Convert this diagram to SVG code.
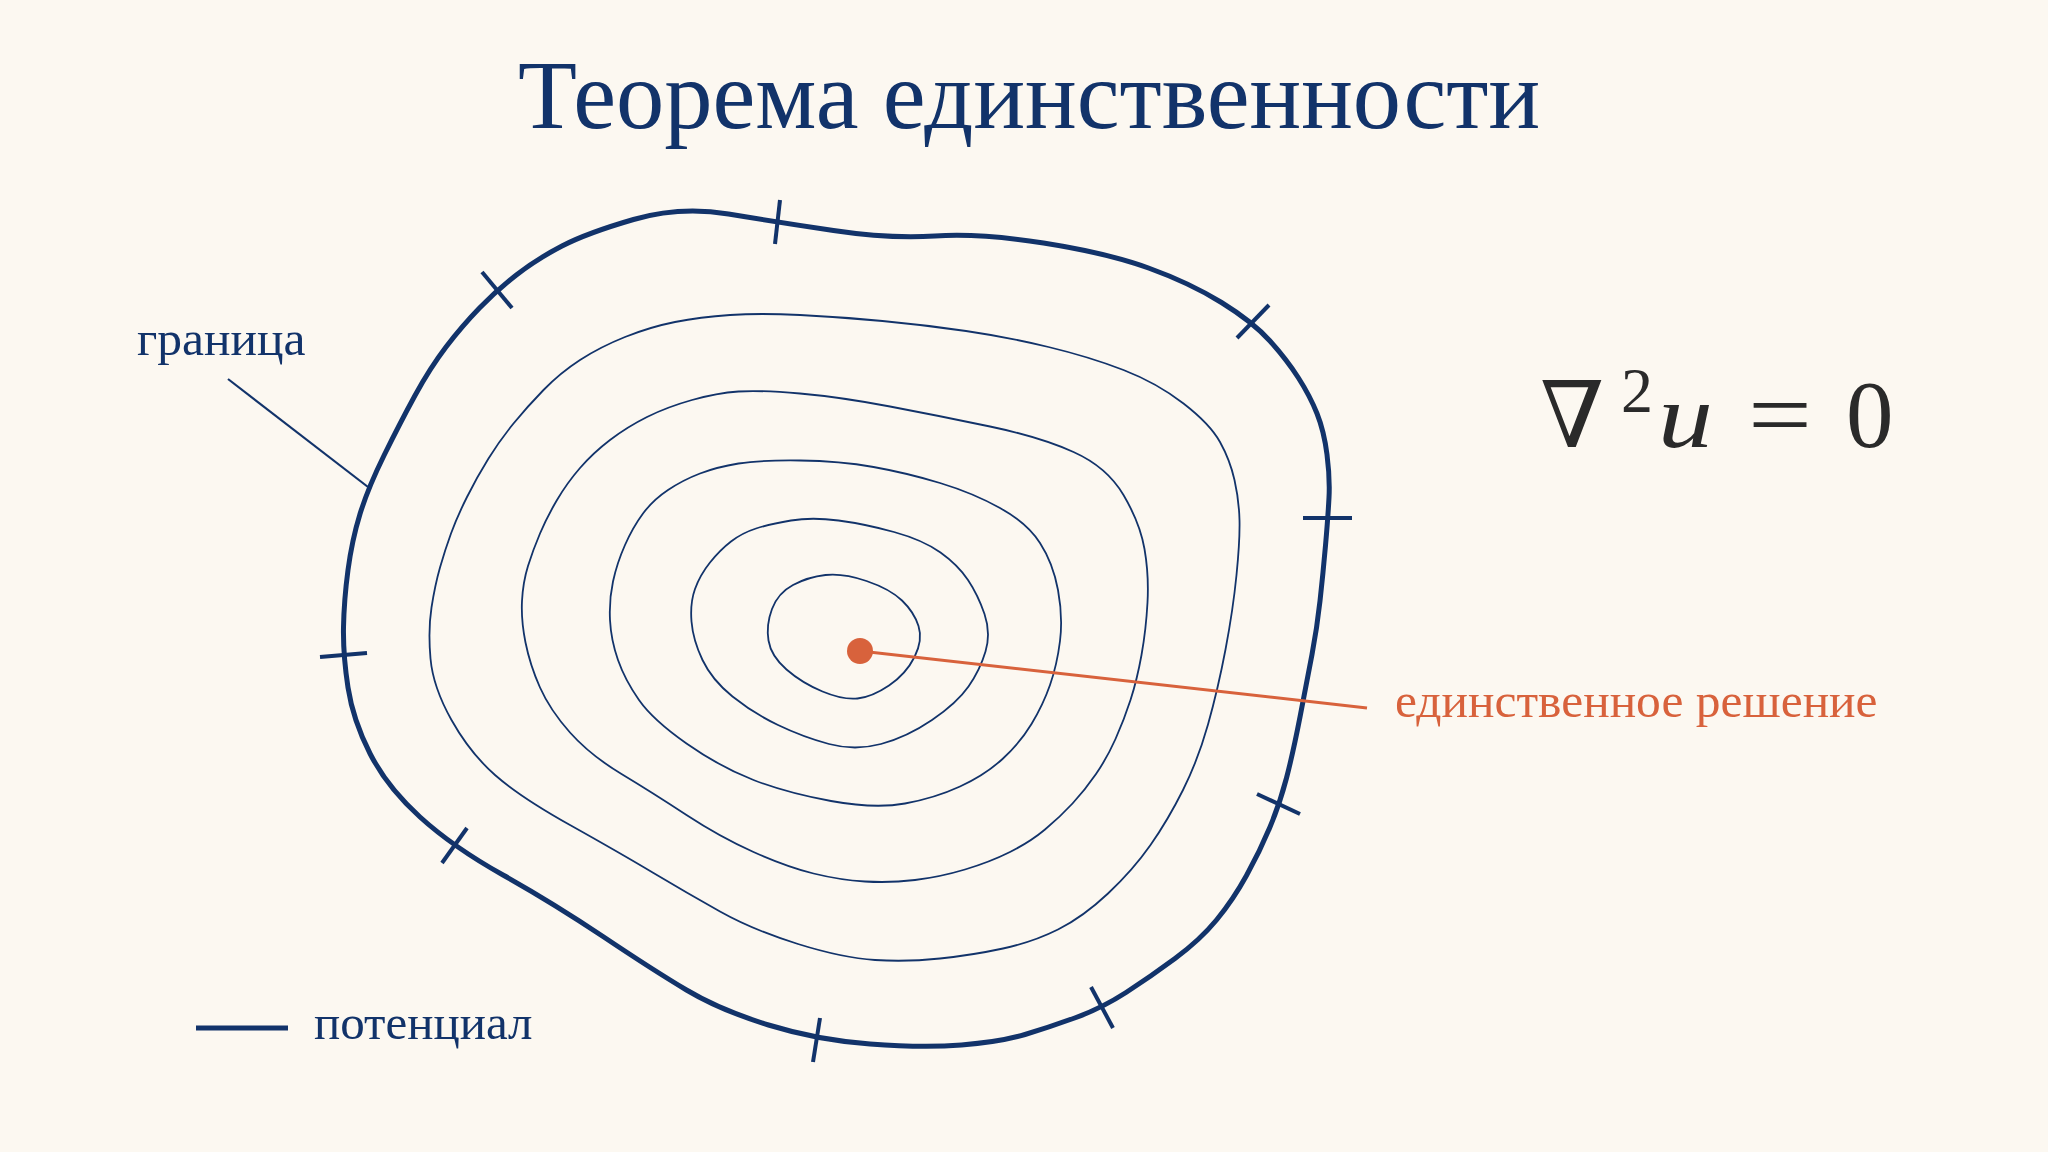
<svg xmlns="http://www.w3.org/2000/svg" width="2048" height="1152" viewBox="0 0 2048 1152">
<style>
.bg{fill:#fcf8f1}
.txt{font-family:"Liberation Serif","Times New Roman",serif;fill:#12336a}
.orange{fill:#d8623c}
.boundary{fill:none;stroke:#12336a;stroke-width:5;stroke-linejoin:round}
.contour{fill:none;stroke:#12336a;stroke-width:1.8}
.tick{stroke:#12336a;stroke-width:4;stroke-linecap:butt}
.leader{stroke:#12336a;stroke-width:2.2}
.math{font-family:"Liberation Serif","DejaVu Serif",serif;fill:#2a2a2a}
</style>
<rect class="bg" x="0" y="0" width="2048" height="1152"/>
<g id="title"><text class="txt" x="1029" y="128" font-size="96.5" text-anchor="middle">Теорема единственности</text></g>
<g id="region">
<path id="contour1" class="contour" d="M 730,315 Q 760,313 800,315 Q 840,317 882.5,321 Q 925,325 966,331 Q 1007,337 1048.5,347 Q 1090,357 1123.5,370 Q 1157,383 1183.5,403.5 Q 1210,424 1220,442 Q 1230,460 1234.5,480 Q 1239,500 1239.5,520 Q 1240,540 1236.5,575 Q 1233,610 1225.5,649.5 Q 1218,689 1208,724.5 Q 1198,760 1183,790 Q 1168,820 1150.5,845 Q 1133,870 1108,893.5 Q 1083,917 1058,929.5 Q 1033,942 1003,948.5 Q 973,955 940,958.5 Q 907,962 875,960 Q 843,958 798,944 Q 753,930 720,911.5 Q 687,893 653.5,873 Q 620,853 570,825 Q 520,797 495,775 Q 470,753 451.5,720 Q 433,687 430.5,658.5 Q 428,630 431.5,607.5 Q 435,585 440,567.5 Q 445,550 451,533.5 Q 457,517 467,497 Q 477,477 488.5,458.5 Q 500,440 513.5,423.5 Q 527,407 543.5,390 Q 560,373 580,360 Q 600,347 625,337 Q 650,327 675,322 Q 700,317 730,315 Z"/>
<path id="contour2" class="contour" d="M 738.5,391.5 Q 760,390 800,393.5 Q 840,397 890,406.5 Q 940,416 990,426.5 Q 1040,437 1073.5,452 Q 1107,467 1123.5,495 Q 1140,523 1144.5,549 Q 1149,575 1147.5,602.5 Q 1146,630 1141.5,655 Q 1137,680 1130.5,700 Q 1124,720 1115.5,739 Q 1107,758 1096,774 Q 1085,790 1072.5,803.5 Q 1060,817 1045,829.5 Q 1030,842 1010,852 Q 990,862 965,869.5 Q 940,877 915,880 Q 890,883 865,881.5 Q 840,880 813.5,873.5 Q 787,867 753.5,852 Q 720,837 686.5,815 Q 653,793 621.5,774 Q 590,755 570,732.5 Q 550,710 540,687.5 Q 530,665 525.5,642.5 Q 521,620 522,601 Q 523,582 528,566 Q 533,550 540,533.5 Q 547,517 557,500 Q 567,483 580,468 Q 593,453 610,440 Q 627,427 647,417 Q 667,407 692,400 Q 717,393 738.5,391.5 Z"/>
<path id="contour3" class="contour" d="M 738.5,463.5 Q 760,460 800,460.5 Q 840,461 873.5,467 Q 907,473 940,483 Q 973,493 1000,508 Q 1027,523 1040,543 Q 1053,563 1058,590 Q 1063,617 1060,641 Q 1057,665 1050,685 Q 1043,705 1031.5,724 Q 1020,743 1002.5,759 Q 985,775 960,786.5 Q 935,798 905,803.5 Q 875,809 831,801 Q 787,793 753.5,780 Q 720,767 686.5,743.5 Q 653,720 639,700 Q 625,680 618,660 Q 611,640 610,620 Q 609,600 613,581.5 Q 617,563 625,545 Q 633,527 643,513.5 Q 653,500 668,490 Q 683,480 700,473.5 Q 717,467 738.5,463.5 Z"/>
<path id="contour4" class="contour" d="M 756,528.5 Q 770,524 791,520.5 Q 812,517 838.5,520.5 Q 865,524 894,532 Q 923,540 940.5,552.5 Q 958,565 968,580 Q 978,595 984.5,614 Q 991,633 985.5,651.5 Q 980,670 968.5,686.5 Q 957,703 932,720 Q 907,737 881,744 Q 855,751 829,744 Q 803,737 778,725 Q 753,713 732.5,696.5 Q 712,680 702.5,660 Q 693,640 691.5,621.5 Q 690,603 695,589 Q 700,575 710,562.5 Q 720,550 731,541.5 Q 742,533 756,528.5 Z"/>
<path id="contour5" class="contour" d="M 825.5,575 Q 843,573 866.5,581 Q 890,589 902,600.5 Q 914,612 918.5,626 Q 923,640 914.5,657 Q 906,674 889,685.5 Q 872,697 857.5,698.5 Q 843,700 822.5,691.5 Q 802,683 786.5,669.5 Q 771,656 768.5,640.5 Q 766,625 772,609 Q 778,593 793,585 Q 808,577 825.5,575 Z"/>
<path id="boundary" class="boundary" d="M 633.5,219.5 Q 680,206 728.5,214 Q 777,222 833.5,230.5 Q 890,239 935,236 Q 980,233 1043.5,243 Q 1107,253 1148.5,268 Q 1190,283 1221.5,302.5 Q 1253,322 1270,341 Q 1287,360 1298.5,378 Q 1310,396 1317,413.5 Q 1324,431 1327,454.5 Q 1330,478 1329,497.5 Q 1328,517 1325.5,545.5 Q 1323,574 1320,601 Q 1317,628 1312,654.5 Q 1307,681 1300,717 Q 1293,753 1286.5,778 Q 1280,803 1270,827 Q 1260,851 1246.5,875.5 Q 1233,900 1216.5,920 Q 1200,940 1175,958.5 Q 1150,977 1126,992.5 Q 1102,1008 1076,1017.5 Q 1050,1027 1025,1034.5 Q 1000,1042 961.5,1045 Q 923,1048 870,1044 Q 817,1040 768.5,1025 Q 720,1010 686.5,990 Q 653,970 603,936.5 Q 553,903 503,875 Q 453,847 420,817 Q 387,787 370,753.5 Q 353,720 348,687.5 Q 343,655 343.5,627.5 Q 344,600 348,570 Q 352,540 360,514 Q 368,488 384,455.5 Q 400,423 415,395.5 Q 430,368 446,347 Q 462,326 479.5,308 Q 497,290 517,274.5 Q 537,259 562,246 Q 587,233 633.5,219.5 Z"/>
<g id="ticks">
<line class="tick" x1="482" y1="272" x2="512" y2="308"/>
<line class="tick" x1="780" y1="200" x2="775" y2="244"/>
<line class="tick" x1="1269" y1="305" x2="1237" y2="338"/>
<line class="tick" x1="1303" y1="518" x2="1352" y2="518"/>
<line class="tick" x1="1257" y1="794" x2="1300" y2="814"/>
<line class="tick" x1="1091" y1="987" x2="1113" y2="1028"/>
<line class="tick" x1="820" y1="1018" x2="813" y2="1062"/>
<line class="tick" x1="467" y1="828" x2="442" y2="863"/>
<line class="tick" x1="320" y1="657" x2="367" y2="653"/>
</g>
</g>
<g id="connectors">
<line class="leader" x1="228" y1="379" x2="368" y2="487"/>
<line x1="860" y1="651" x2="1367" y2="708" stroke="#d8623c" stroke-width="3"/>
</g>
<g id="solution-point"><circle class="orange" cx="860" cy="651" r="13"/></g>
<g id="label-boundary"><text class="txt" x="137" y="355" font-size="49.5">граница</text></g>
<g id="label-solution"><text class="txt orange" x="1395" y="717" font-size="49.5">единственное решение</text></g>
<g id="legend">
<line x1="196" y1="1028" x2="288" y2="1028" stroke="#12336a" stroke-width="5"/>
<text class="txt" x="314" y="1039" font-size="49">потенциал</text>
</g>
<g id="equation">
<text class="math" x="1540" y="447" font-size="92" font-family="DejaVu Serif">∇</text>
<text class="math" x="1621" y="412" font-size="64">2</text>
<text class="math" x="1658" y="447" font-size="92" font-style="italic" textLength="55" lengthAdjust="spacingAndGlyphs">u</text>
<text class="math" x="1748" y="447" font-size="98" textLength="64" lengthAdjust="spacingAndGlyphs">=</text>
<text class="math" x="1846" y="447" font-size="95">0</text>
</g>
</svg>
